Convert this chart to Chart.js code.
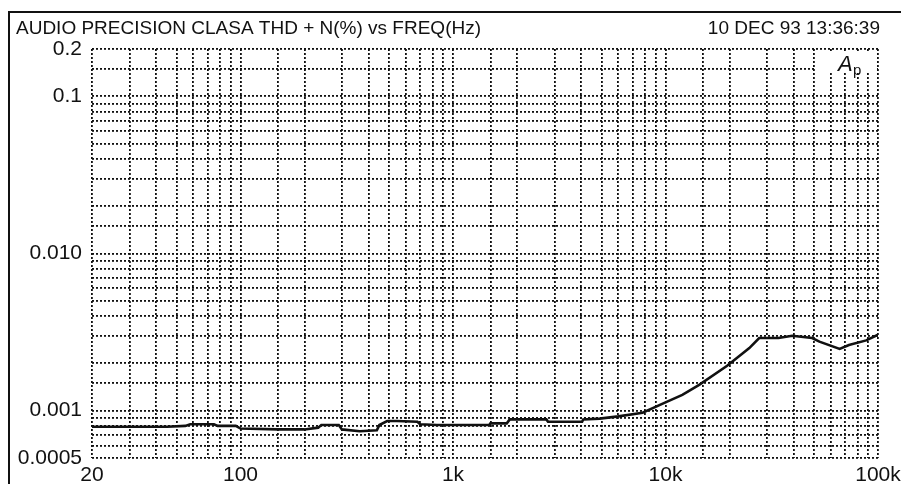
<!DOCTYPE html>
<html lang="en">
<head>
    <meta charset="UTF-8">
    <title>THD+N vs Frequency</title>
    <script src="https://cdn.jsdelivr.net/npm/chart.js"></script>
    <style>
        body {
            margin: 0;
            background-color: white;
        }
        canvas {
            display: block;
        }
    </style>
</head>
<body>
    <canvas id="graph" width="901" height="484"></canvas>

    <script>
        // sweep frequencies (Hz) and measured THD+N (%)
        const freqHz = [20, 30, 45, 55, 58, 75, 78, 95, 100, 150, 200, 232, 240, 290, 300, 364, 438, 450, 490, 545, 680, 700, 840, 1480, 1500, 1790, 1850, 2750, 2800, 4050, 4100, 4900, 6000, 7800, 10000, 12000, 14400, 19500, 24800, 27600, 34000, 39500, 49000, 53000, 66000, 73000, 88000, 100000];
        const thdPct = [0.00079, 0.00079, 0.00079, 0.0008, 0.00082, 0.00082, 0.0008, 0.0008, 0.00077, 0.00076, 0.00076, 0.00078, 0.00081, 0.00081, 0.00076, 0.00074, 0.00075, 0.00081, 0.00086, 0.00086, 0.00085, 0.00082, 0.00081, 0.00081, 0.00083, 0.00083, 0.00088, 0.00088, 0.00085, 0.00085, 0.00088, 0.00089, 0.00092, 0.00097, 0.00113, 0.00126, 0.00146, 0.00193, 0.0025, 0.0029, 0.0029, 0.003, 0.0029, 0.00275, 0.00247, 0.00262, 0.0028, 0.00304];

        // labelled ticks
        const xTickValues = [20, 100, 1000, 10000, 100000];
        const xTickLabels = ['20', '100', '1k', '10k', '100k'];
        const yTickValues = [0.2, 0.1, 0.01, 0.001, 0.0005];
        const yTickLabels = ['0.2', '0.1', '0.010', '0.001', '0.0005'];

        const titleText = 'AUDIO PRECISION CLASA THD + N(%) vs FREQ(Hz)';
        const dateText = '10 DEC 93 13:36:39';

        function findLabel(v, values, labels) {
            for (let i = 0; i < values.length; i++) {
                if (Math.abs(v - values[i]) / values[i] < 1e-6) return labels[i];
            }
            return '';
        }

        const font = "'Liberation Sans', Arial, sans-serif";
        const dotted = [2, 2];

        const decorations = {
            id: 'decorations',
            afterDraw(chart) {
                const ctx = chart.ctx;
                ctx.save();
                // outer frame
                ctx.strokeStyle = '#111';
                ctx.lineWidth = 2;
                ctx.beginPath();
                ctx.moveTo(9, 484);
                ctx.lineTo(9, 12);
                ctx.lineTo(901, 12);
                ctx.stroke();

                // header texts
                ctx.fillStyle = '#111';
                ctx.font = '19px ' + font;
                ctx.textBaseline = 'alphabetic';
                ctx.textAlign = 'left';
                ctx.fillText(titleText, 16, 34);
                ctx.textAlign = 'right';
                ctx.fillText(dateText, 880, 34);

                // Ap logo box
                ctx.fillStyle = 'white';
                ctx.fillRect(815, 52, 62, 21);
                ctx.fillStyle = '#111';
                ctx.textAlign = 'left';
                ctx.font = 'italic 22px ' + font;
                ctx.fillText('A', 838, 71);
                ctx.font = '15px ' + font;
                ctx.fillText('p', 853, 75);
                ctx.restore();
            }
        };

        const ctx = document.getElementById('graph').getContext('2d');
        new Chart(ctx, {
            type: 'line',
            data: {
                datasets: [{
                    data: freqHz.map((f, i) => ({ x: f, y: thdPct[i] })),
                    borderColor: '#111',
                    borderWidth: 2.6,
                    pointRadius: 0,
                    tension: 0,
                    fill: false,
                }],
            },
            options: {
                responsive: false,
                animation: false,
                layout: { padding: { top: 49, right: 23, left: 0, bottom: 0 } },
                plugins: {
                    legend: { display: false },
                    tooltip: { enabled: false },
                },
                scales: {
                    x: {
                        type: 'logarithmic',
                        min: 20,
                        max: 100000,
                        afterFit: (s) => {
                            s.height = 26;
                            s.paddingLeft = 0;
                            s.paddingRight = 0;
                        },
                        grid: { color: '#111', lineWidth: 1.8, drawTicks: false },
                        border: { display: false, dash: dotted },
                        ticks: {
                            autoSkip: false,
                            maxRotation: 0,
                            padding: 5,
                            color: '#111',
                            font: { family: font, size: 21 },
                            callback: (v) => findLabel(v, xTickValues, xTickLabels),
                        },
                    },
                    y: {
                        type: 'logarithmic',
                        min: 0.0005,
                        max: 0.2,
                        afterFit: (s) => { s.width = 92; },
                        grid: { color: '#111', lineWidth: 1.8, drawTicks: false },
                        border: { display: false, dash: dotted },
                        ticks: {
                            autoSkip: false,
                            padding: 10,
                            color: '#111',
                            font: { family: font, size: 21 },
                            callback: (v) => findLabel(v, yTickValues, yTickLabels),
                        },
                    },
                },
            },
            plugins: [decorations],
        });
    </script>
</body>
</html>
